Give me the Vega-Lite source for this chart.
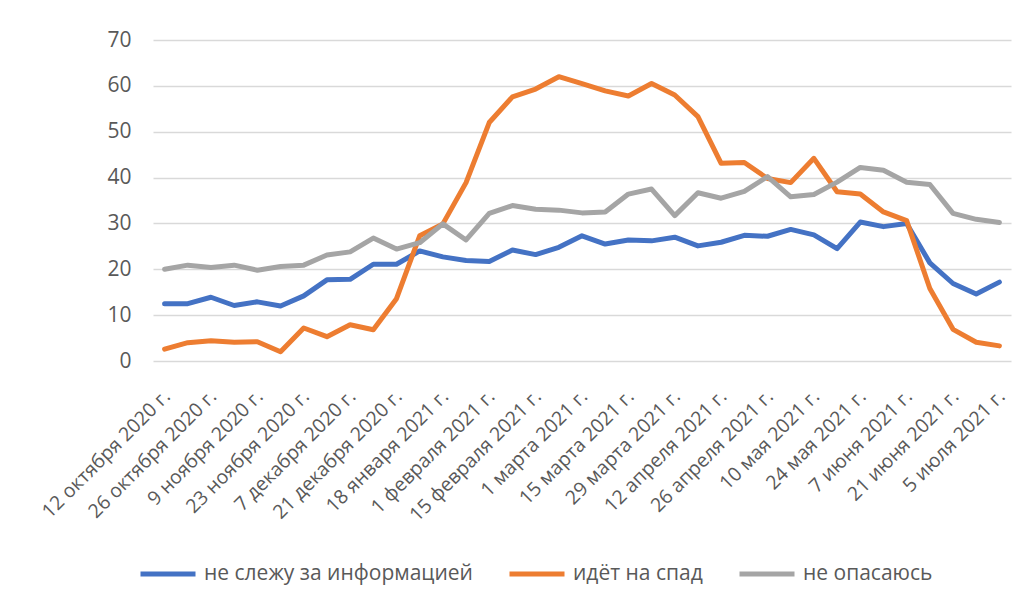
{
  "$schema": "https://vega.github.io/schema/vega-lite/v6.json",
  "autosize": {"type": "none"},
  "width": 858,
  "height": 321,
  "padding": {"left": 153, "top": 40, "right": 24, "bottom": 242},
  "background": "white",
  "config": {
    "view": {"stroke": null},
    "font": "Open Sans"
  },
  "data": {
    "values": [
      {"date": "12 октября 2020 г.", "a": 12.5, "b": 2.6, "c": 20.0},
      {"date": "19 октября 2020 г.", "a": 12.5, "b": 4.0, "c": 20.9},
      {"date": "26 октября 2020 г.", "a": 13.9, "b": 4.4, "c": 20.4},
      {"date": "2 ноября 2020 г.", "a": 12.1, "b": 4.1, "c": 20.9},
      {"date": "9 ноября 2020 г.", "a": 12.9, "b": 4.2, "c": 19.8},
      {"date": "16 ноября 2020 г.", "a": 12.0, "b": 2.0, "c": 20.6},
      {"date": "23 ноября 2020 г.", "a": 14.2, "b": 7.2, "c": 20.9},
      {"date": "30 ноября 2020 г.", "a": 17.7, "b": 5.3, "c": 23.1},
      {"date": "7 декабря 2020 г.", "a": 17.8, "b": 7.9, "c": 23.8},
      {"date": "14 декабря 2020 г.", "a": 21.1, "b": 6.8, "c": 26.8},
      {"date": "21 декабря 2020 г.", "a": 21.1, "b": 13.6, "c": 24.4},
      {"date": "11 января 2021 г.", "a": 24.0, "b": 27.3, "c": 25.8},
      {"date": "18 января 2021 г.", "a": 22.7, "b": 29.9, "c": 29.9},
      {"date": "25 января 2021 г.", "a": 21.9, "b": 38.9, "c": 26.4},
      {"date": "1 февраля 2021 г.", "a": 21.7, "b": 52.0, "c": 32.2},
      {"date": "8 февраля 2021 г.", "a": 24.2, "b": 57.6, "c": 33.9},
      {"date": "15 февраля 2021 г.", "a": 23.2, "b": 59.3, "c": 33.1},
      {"date": "22 февраля 2021 г.", "a": 24.8, "b": 62.0, "c": 32.9},
      {"date": "1 марта 2021 г.", "a": 27.3, "b": 60.5, "c": 32.3},
      {"date": "8 марта 2021 г.", "a": 25.5, "b": 58.9, "c": 32.5},
      {"date": "15 марта 2021 г.", "a": 26.4, "b": 57.8, "c": 36.4},
      {"date": "22 марта 2021 г.", "a": 26.2, "b": 60.5, "c": 37.5},
      {"date": "29 марта 2021 г.", "a": 27.0, "b": 58.0, "c": 31.7},
      {"date": "5 апреля 2021 г.", "a": 25.1, "b": 53.3, "c": 36.7},
      {"date": "12 апреля 2021 г.", "a": 25.9, "b": 43.1, "c": 35.5},
      {"date": "19 апреля 2021 г.", "a": 27.4, "b": 43.3, "c": 37.0},
      {"date": "26 апреля 2021 г.", "a": 27.2, "b": 39.8, "c": 40.2},
      {"date": "3 мая 2021 г.", "a": 28.7, "b": 38.9, "c": 35.8},
      {"date": "10 мая 2021 г.", "a": 27.5, "b": 44.2, "c": 36.3},
      {"date": "17 мая 2021 г.", "a": 24.5, "b": 36.9, "c": 39.0},
      {"date": "24 мая 2021 г.", "a": 30.3, "b": 36.4, "c": 42.2},
      {"date": "31 мая 2021 г.", "a": 29.3, "b": 32.5, "c": 41.6},
      {"date": "7 июня 2021 г.", "a": 30.0, "b": 30.6, "c": 39.0},
      {"date": "14 июня 2021 г.", "a": 21.4, "b": 15.8, "c": 38.5},
      {"date": "21 июня 2021 г.", "a": 16.9, "b": 6.9, "c": 32.2},
      {"date": "28 июня 2021 г.", "a": 14.6, "b": 4.1, "c": 30.9},
      {"date": "5 июля 2021 г.", "a": 17.2, "b": 3.3, "c": 30.2}
    ]
  },
  "transform": [
    {"fold": ["a", "b", "c"], "as": ["key", "value"]},
    {"lookup": "key", "from": {"data": {"values": [
      {"key": "a", "series": "не слежу за информацией"},
      {"key": "b", "series": "идёт на спад"},
      {"key": "c", "series": "не опасаюсь"}
    ]}, "key": "key", "fields": ["series"]}}
  ],
  "mark": {"type": "line", "strokeWidth": 5, "strokeCap": "round", "strokeJoin": "round"},
  "encoding": {
    "x": {
      "field": "date",
      "type": "ordinal",
      "sort": null,
      "scale": {"type": "point", "padding": 0.5},
      "axis": {
        "title": null,
        "values": ["12 октября 2020 г.", "26 октября 2020 г.", "9 ноября 2020 г.", "23 ноября 2020 г.", "7 декабря 2020 г.", "21 декабря 2020 г.", "18 января 2021 г.", "1 февраля 2021 г.", "15 февраля 2021 г.", "1 марта 2021 г.", "15 марта 2021 г.", "29 марта 2021 г.", "12 апреля 2021 г.", "26 апреля 2021 г.", "10 мая 2021 г.", "24 мая 2021 г.", "7 июня 2021 г.", "21 июня 2021 г.", "5 июля 2021 г."],
        "labelAngle": -45,
        "labelAlign": "right",
        "labelBaseline": "middle",
        "labelPadding": 32,
        "labelOffset": 2,
        "labelFontSize": 19.5,
        "labelColor": "#595959",
        "labelFont": "Open Sans",
        "labelOverlap": false,
        "labelBound": false,
        "labelFlush": false,
        "ticks": false,
        "domain": false,
        "grid": false
      }
    },
    "y": {
      "field": "value",
      "type": "quantitative",
      "scale": {"domain": [0, 70], "nice": false, "zero": true},
      "axis": {
        "title": null,
        "values": [0, 10, 20, 30, 40, 50, 60, 70],
        "labelFontSize": 21,
        "labelColor": "#595959",
        "labelFont": "Open Sans",
        "labelPadding": 22,
        "ticks": false,
        "domain": false,
        "grid": true,
        "gridColor": "#D9D9D9",
        "gridWidth": 1.5
      }
    },
    "color": {
      "field": "series",
      "type": "nominal",
      "sort": ["не слежу за информацией", "идёт на спад", "не опасаюсь"],
      "scale": {"domain": ["не слежу за информацией", "идёт на спад", "не опасаюсь"], "range": ["#4472C4", "#ED7D31", "#A5A5A5"]},
      "legend": {
        "title": null,
        "orient": "none",
        "direction": "horizontal",
        "legendX": -15,
        "legendY": 504,
        "symbolType": "stroke",
        "symbolSize": 3025,
        "symbolStrokeWidth": 5,
        "labelFontSize": 21,
        "labelColor": "#595959",
        "labelFont": "Open Sans",
        "labelOffset": 6,
        "columnPadding": 26,
        "labelLimit": 400
      }
    }
  }
}
